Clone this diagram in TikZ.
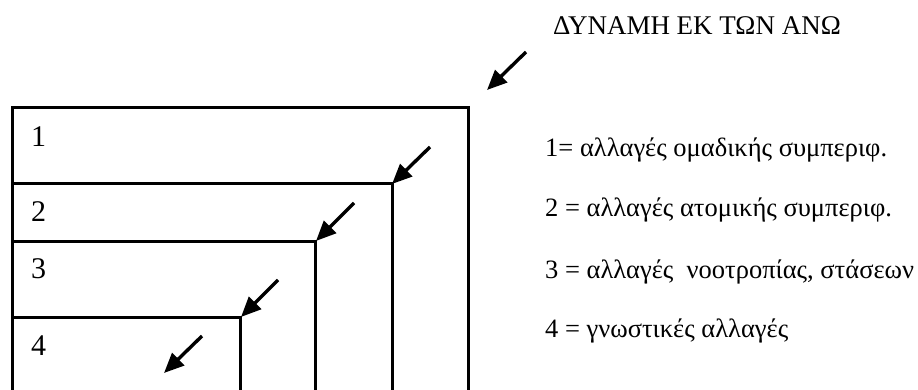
\documentclass[tikz,border=0pt]{standalone}
\usepackage{fontspec}
\setmainfont{Liberation Serif}
\usetikzlibrary{arrows.meta}
\begin{document}
\begin{tikzpicture}[x=1pt,y=-1pt,
  frame/.style={line width=3pt,line cap=rect},
  force/.style={line width=3.4pt,-{Triangle[length=20pt,width=17pt]}},
  lvl/.style={anchor=base west,inner sep=0pt,font=\fontsize{30}{32}\selectfont},
  legend/.style={anchor=base west,inner sep=0pt,font=\fontsize{26.5}{30}\selectfont},
  title/.style={anchor=base,inner sep=0pt,font=\fontsize{27}{30}\selectfont}]
\useasboundingbox (0,0) rectangle (918,390);
% frame
\draw[frame] (12,392) -- (12,108) -- (468,108) -- (468,392);
\draw[frame] (12,184) -- (392,184) -- (392,392);
\draw[frame] (12,241) -- (315,241) -- (315,392);
\draw[frame] (12,317) -- (240,317) -- (240,392);
% level labels
\node[lvl] (l1) at (31,147) {1};
\node[lvl] (l2) at (31,222) {2};
\node[lvl] (l3) at (31,278) {3};
\node[lvl] (l4) at (31,355) {4};
% title
\node[title] (t) at (697,35) {ΔΥΝΑΜΗ ΕΚ ΤΩΝ ΑΝΩ};
% arrows
\coordinate (a0s) at (526,52); \coordinate (a0e) at (487,90);
\coordinate (a1s) at (430,147); \coordinate (a1e) at (392,184);
\coordinate (a2s) at (354,203); \coordinate (a2e) at (316,241);
\coordinate (a3s) at (278,280); \coordinate (a3e) at (241,317);
\coordinate (a4s) at (202,336); \coordinate (a4e) at (164,373);
\draw[force] (a0s) -- (a0e);
\draw[force] (a1s) -- (a1e);
\draw[force] (a2s) -- (a2e);
\draw[force] (a3s) -- (a3e);
\draw[force] (a4s) -- (a4e);
% legend
\node[legend] (g1) at (545,157) {1= αλλαγές ομαδικής συμπεριφ.};
\node[legend] (g2) at (545,217) {2 = αλλαγές ατομικής συμπεριφ.};
\node[legend] (g3) at (545,278) {3 = αλλαγές\ \ νοοτροπίας, στάσεων};
\node[legend] (g4) at (545,337) {4 = γνωστικές αλλαγές};
\end{tikzpicture}
\end{document}
